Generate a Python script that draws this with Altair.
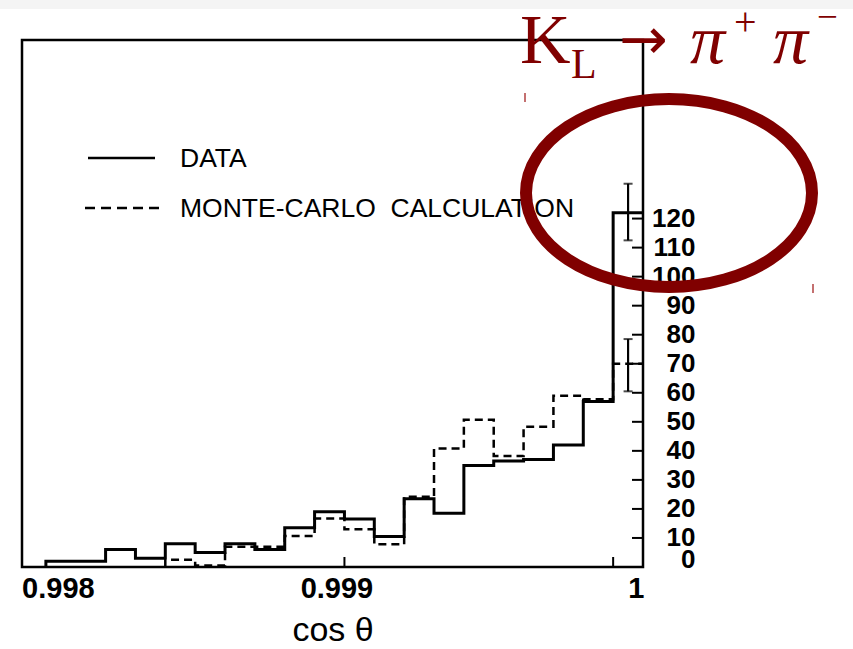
import altair as alt
import pandas as pd

# ---------------- data ----------------
bin_left = [0.9980, 0.9981, 0.9982, 0.9983, 0.9984, 0.9985, 0.9986, 0.9987, 0.9988, 0.9989,
            0.9990, 0.9991, 0.9992, 0.9993, 0.9994, 0.9995, 0.9996, 0.9997, 0.9998, 0.9999]
bin_end = 1.0
data_counts = [2, 2, 6, 3, 8, 5, 8, 6, 13.5, 19, 16.5, 10.5, 23.5, 18.5, 35, 36.5, 37, 42, 57, 122]
mc_counts = [0, 0, 0, 0, 2.5, 0.5, 7, 7, 10.7, 16.7, 13, 7.8, 24.2, 40.8, 50.7, 38.2, 48.3, 59, 57.8, 70]

err_x = [0.99995, 0.99995]
err_lo = [112.5, 60.5]
err_hi = [132.0, 78.5]

x_label_values = [0.998, 0.999, 1.0]
x_tick_values = [0.999, 0.9999]
y_label_values = [0, 10, 20, 30, 40, 50, 60, 70, 80, 90, 100, 110, 120]
y_tick_values = [10, 20, 30, 40, 50, 60, 70, 80, 90, 100, 110, 120]

legend_labels = ["DATA", "MONTE-CARLO\u00a0\u00a0CALCULATION"]
x_title = "cos θ"

W, H = 621, 527
RED = "#800000"
FONT = "Liberation Sans"


def outline(counts):
    first = next(i for i, c in enumerate(counts) if c > 0)
    rows = [{"i": 0, "x": bin_left[first], "y": 0}]
    k = 1
    for j in range(first, len(counts)):
        rows.append({"i": k, "x": bin_left[j], "y": counts[j]})
        k += 1
    rows.append({"i": k, "x": bin_end, "y": counts[-1]})
    return pd.DataFrame(rows)


xs = alt.Scale(domain=[0.99792, 1.0], nice=False, zero=False)
ys = alt.Scale(domain=[0, 181.5], nice=False)

x_axis = alt.Axis(
    values=x_label_values,
    labelExpr="datum.value >= 0.99999 ? '1' : format(datum.value, '.3f')",
    labelAlign={"condition": {"test": "datum.value >= 0.99999", "value": "right"}, "value": "center"},
    labelOffset={"condition": [
        {"test": "datum.value < 0.9985", "value": 12},
        {"test": "datum.value >= 0.99999", "value": 1},
    ], "value": -8},
    labelFont=FONT, labelFontSize=29, labelFontWeight="bold", labelColor="black",
    labelPadding=7, labelOverlap=False, ticks=False, domain=False, grid=False,
    title=x_title, titleFont=FONT, titleFontSize=34, titleFontWeight="normal",
    titleColor="black", titlePadding=10,
)
y_axis = alt.Axis(
    orient="right", values=y_label_values, format="d",
    labelAlign="right",
    labelBaseline={"condition": {"test": "datum.value == 0", "value": "alphabetic"}, "value": "middle"},
    labelFont=FONT, labelFontSize=26, labelFontWeight="bold", labelColor="black",
    labelPadding=52, labelOverlap=False, ticks=False, tickSize=0, domain=False, grid=False, title=None,
)

mc_line = alt.Chart(outline(mc_counts)).mark_line(
    interpolate="step-after", color="black", strokeWidth=2.5, strokeDash=[8, 5]
).encode(
    x=alt.X("x:Q", scale=xs, axis=x_axis),
    y=alt.Y("y:Q", scale=ys, axis=y_axis),
    order="i:Q",
)

data_line = alt.Chart(outline(data_counts)).mark_line(
    interpolate="step-after", color="black", strokeWidth=3
).encode(
    x=alt.X("x:Q", scale=xs),
    y=alt.Y("y:Q", scale=ys),
    order="i:Q",
)

err_df = pd.DataFrame({"x": err_x, "lo": err_lo, "hi": err_hi})
err_rule = alt.Chart(err_df).mark_rule(color="black", strokeWidth=2.2).encode(
    x=alt.X("x:Q", scale=xs), y=alt.Y("lo:Q", scale=ys), y2="hi:Q"
)
err_cap_lo = alt.Chart(err_df).mark_tick(color="black", orient="horizontal", size=9, thickness=2).encode(
    x=alt.X("x:Q", scale=xs), y=alt.Y("lo:Q", scale=ys)
)
err_cap_hi = alt.Chart(err_df).mark_tick(color="black", orient="horizontal", size=9, thickness=2).encode(
    x=alt.X("x:Q", scale=xs), y=alt.Y("hi:Q", scale=ys)
)

xt = alt.Chart(pd.DataFrame({"v": x_tick_values})).mark_rule(color="black", strokeWidth=2).encode(
    x=alt.X("v:Q", scale=xs), y=alt.value(H - 10), y2=alt.value(H)
)
yt = alt.Chart(pd.DataFrame({"v": y_tick_values})).mark_rule(color="black", strokeWidth=2).encode(
    y=alt.Y("v:Q", scale=ys), x=alt.value(W - 11), x2=alt.value(W)
)

# legend
leg_solid = alt.Chart(pd.DataFrame({"a": [0]})).mark_rule(color="black", strokeWidth=2.5).encode(
    x=alt.value(66), x2=alt.value(133), y=alt.value(118)
)
leg_dash = alt.Chart(pd.DataFrame({"a": [0]})).mark_rule(
    color="black", strokeWidth=2.5, strokeDash=[10, 6]
).encode(x=alt.value(63), x2=alt.value(138), y=alt.value(168))
leg_t1 = alt.Chart(pd.DataFrame({"t": [legend_labels[0]]})).mark_text(
    font=FONT, fontSize=26.5, align="left", baseline="middle", color="black"
).encode(x=alt.value(158), y=alt.value(119), text="t:N")
leg_t2 = alt.Chart(pd.DataFrame({"t": [legend_labels[1]]})).mark_text(
    font=FONT, fontSize=26.5, align="left", baseline="middle", color="black"
).encode(x=alt.value(158), y=alt.value(169), text="t:N")

# grey strip at the top of the slide
strip = alt.Chart(pd.DataFrame({"a": [0]})).mark_rect(color="#f4f4f4").encode(
    x=alt.value(-22), x2=alt.value(831), y=alt.value(-40), y2=alt.value(-31)
)


def red_text(t, x, y, size, style="normal", baseline="alphabetic", font="Liberation Serif"):
    return alt.Chart(pd.DataFrame({"t": [t]})).mark_text(
        font=font, fontSize=size, fontStyle=style, align="left", baseline=baseline, color=RED
    ).encode(x=alt.value(x), y=alt.value(y), text="t:N")


ann = [
    red_text("K", 498, 23, 70),
    red_text("L", 549, 38, 42),
    red_text("→", 597, 19, 58, font="DejaVu Sans"),
    red_text("π", 668, 23, 70, style="italic"),
    red_text("+", 712, -17, 40, baseline="middle"),
    red_text("π", 751, 23, 70, style="italic"),
    red_text("−", 795, -22, 37, baseline="middle"),
]

ellipse = alt.Chart(pd.DataFrame({"a": [0]})).mark_point(
    shape="M -1 0 A 1 0.657 0 1 1 1 0 A 1 0.657 0 1 1 -1 0 Z",
    size=81796, filled=False, stroke=RED, strokeWidth=12, opacity=1,
).encode(x=alt.value(647), y=alt.value(153))

marks_small = [
    alt.Chart(pd.DataFrame({"a": [0]})).mark_rule(color="#b04040", strokeWidth=1.5).encode(
        x=alt.value(503), y=alt.value(53), y2=alt.value(62)),
    alt.Chart(pd.DataFrame({"a": [0]})).mark_rule(color="#b04040", strokeWidth=1.5).encode(
        x=alt.value(791), y=alt.value(244), y2=alt.value(253)),
]

chart = alt.layer(
    strip, mc_line, data_line, err_rule, err_cap_lo, err_cap_hi, xt, yt,
    leg_solid, leg_dash, leg_t1, leg_t2, ellipse, *ann, *marks_small
).properties(
    width=W, height=H,
    autosize=alt.AutoSizeParams(type="none"),
    padding={"left": 22, "top": 40, "right": 210, "bottom": 82},
    background="white",
).configure_view(stroke="black", strokeWidth=2.5)

chart.save("out.html", embed_options={"renderer": "svg", "actions": False})
